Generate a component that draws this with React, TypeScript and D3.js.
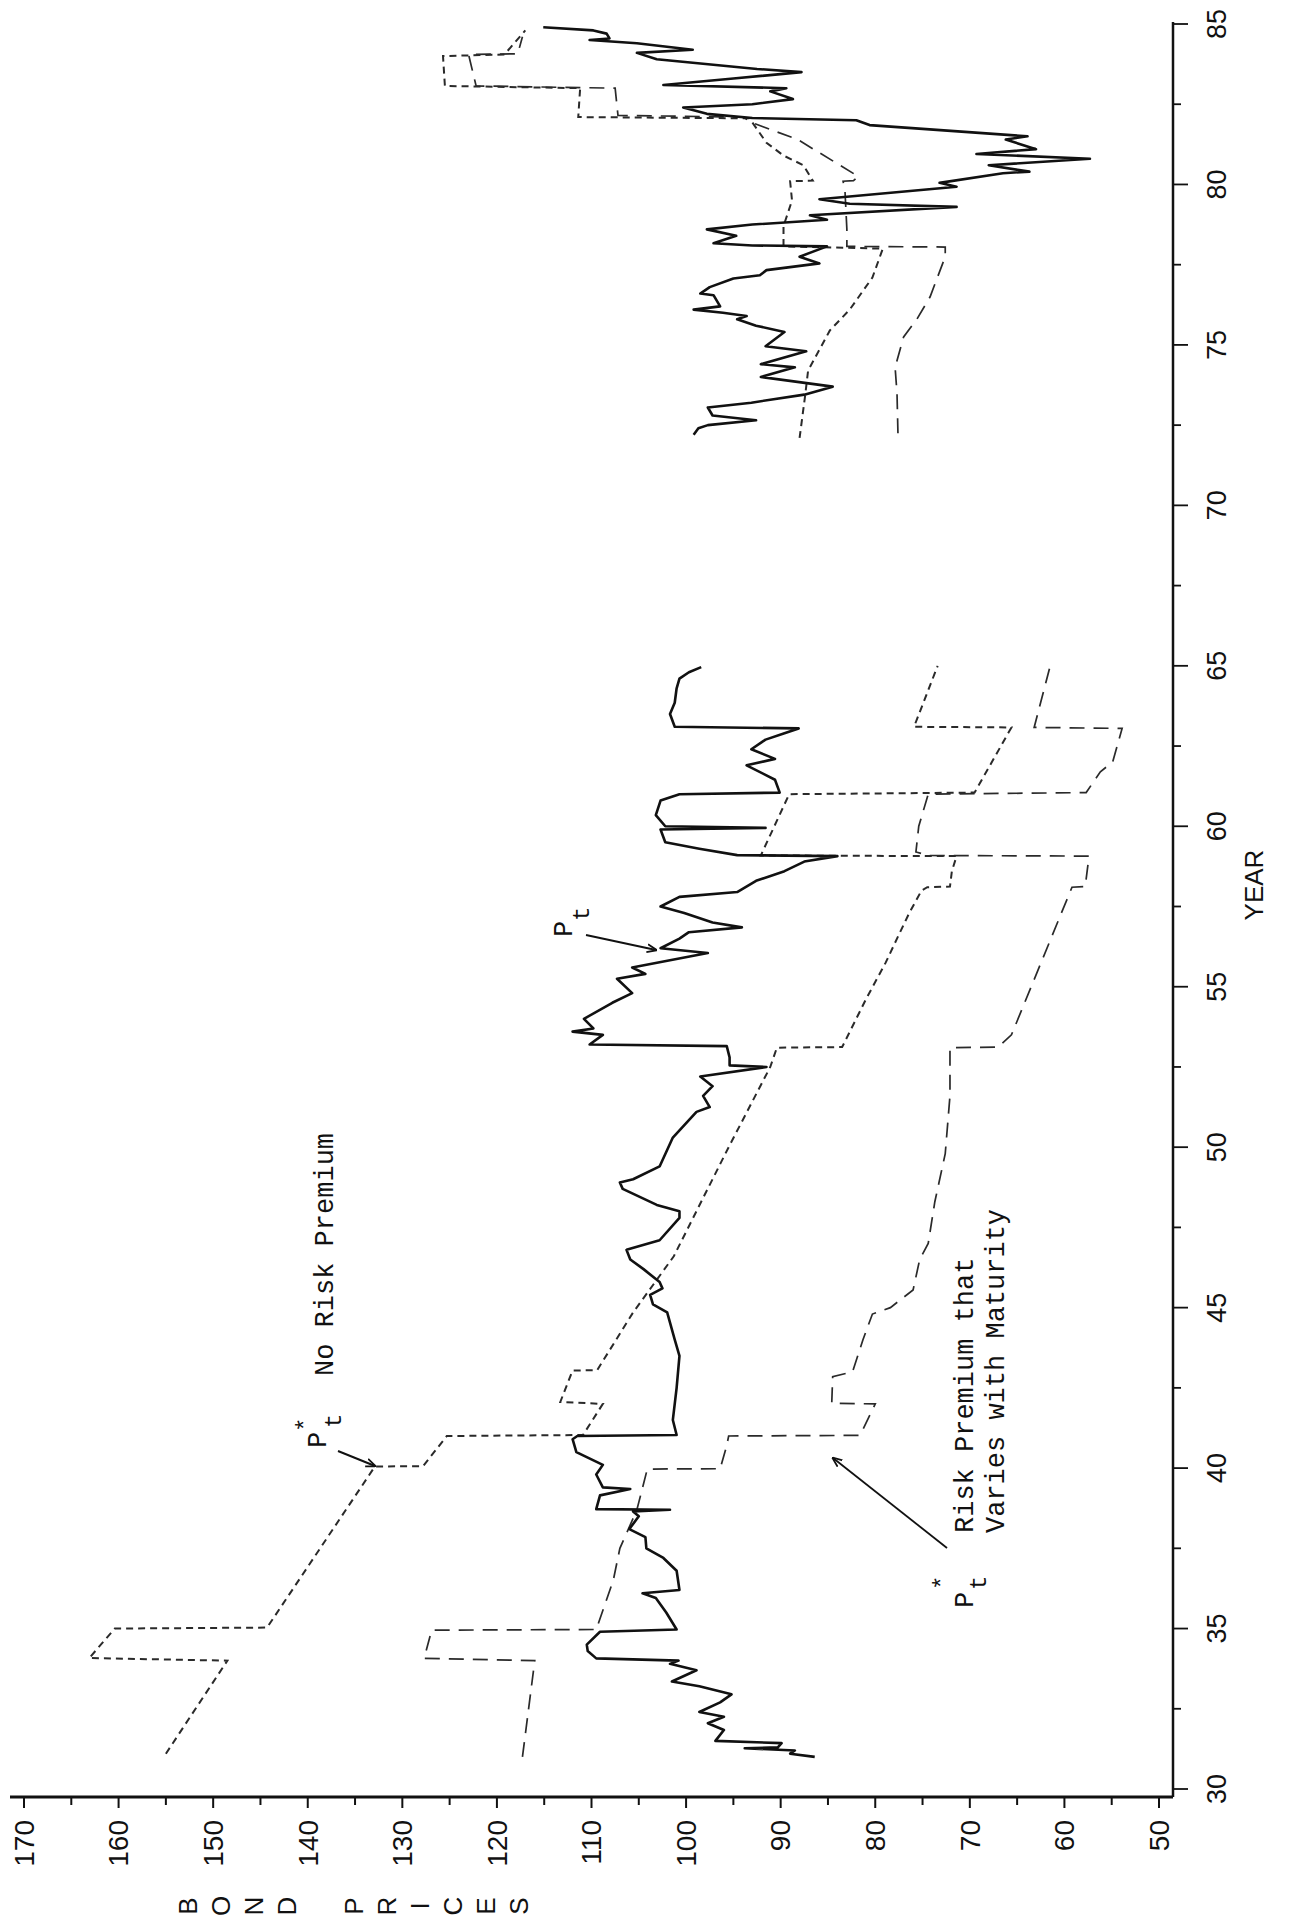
import React from "react";
import * as d3 from "d3";

// ---------- DATA (year, bond price) ----------
const yearTicks = d3.range(30, 85.01, 2.5);
const yearLabels = [30, 35, 40, 45, 50, 55, 60, 65, 70, 75, 80, 85];
const priceTicks = d3.range(50, 170.01, 5);
const priceLabels = [170, 160, 150, 140, 130, 120, 110, 100, 90, 80, 70, 60, 50];
const axisLetters = ["B", "O", "N", "D", "", "P", "R", "I", "C", "E", "S"];

// Actual bond price P_t, 1931-1965
const ptEarly: [number, number][] = [
  [31.0, 86.4], [31.1, 89.0], [31.2, 88.5], [31.27, 93.8], [31.3, 90.3], [31.43, 89.9],
  [31.5, 96.9], [31.84, 96.0], [32.05, 97.7], [32.25, 96.0], [32.4, 98.6], [32.7, 96.4],
  [32.95, 95.2], [33.2, 98.6], [33.35, 101.5], [33.7, 98.9], [33.9, 101.7], [34.0, 100.8],
  [34.07, 109.5], [34.3, 110.4], [34.5, 110.5], [34.9, 109.1], [34.97, 101.0], [35.5, 102.1],
  [35.95, 103.2], [36.1, 104.6], [36.2, 100.7], [36.8, 101.0], [37.2, 102.4], [37.5, 104.2],
  [37.85, 104.3], [38.1, 106.0], [38.5, 105.0], [38.65, 105.6], [38.7, 101.7], [38.72, 109.5],
  [39.15, 109.1], [39.35, 105.9], [39.4, 108.8], [39.8, 109.5], [40.1, 108.8], [40.5, 111.6],
  [40.9, 112.0], [41.0, 111.5], [41.03, 101.0], [41.5, 101.4], [42.5, 101.0], [43.5, 100.7],
  [44.0, 101.2], [44.85, 102.0], [45.1, 103.5], [45.4, 103.8], [45.6, 102.5], [45.8, 102.8],
  [46.2, 104.5], [46.5, 105.9], [46.8, 106.3], [47.1, 102.8], [47.8, 100.7], [48.0, 100.7],
  [48.2, 103.1], [48.7, 106.7], [48.9, 107.0], [49.0, 105.6], [49.4, 102.8], [50.3, 101.4],
  [51.1, 98.9], [51.25, 97.5], [51.6, 98.2], [51.9, 97.2], [52.2, 98.5], [52.5, 91.5],
  [52.55, 95.4], [52.8, 95.4], [53.15, 95.7], [53.2, 110.2], [53.5, 108.8], [53.6, 112.0],
  [53.7, 109.8], [54.0, 110.8], [54.5, 107.8], [54.8, 105.7], [55.25, 107.3], [55.4, 104.3],
  [55.6, 105.7], [56.05, 97.7], [56.2, 102.7], [56.5, 100.7], [56.7, 99.7], [56.85, 94.1],
  [57.0, 97.2], [57.3, 100.2], [57.5, 102.7], [57.8, 100.7], [57.95, 94.6], [58.3, 92.6],
  [58.6, 89.6], [58.9, 87.5], [59.07, 84.0], [59.1, 94.6], [59.3, 98.6], [59.5, 102.2],
  [59.9, 102.7], [59.95, 91.6], [60.0, 102.2], [60.35, 103.2], [60.8, 102.7], [61.0, 100.7],
  [61.05, 90.1], [61.45, 90.6], [61.9, 93.6], [62.1, 90.6], [62.4, 93.1], [62.7, 91.6],
  [62.9, 89.6], [63.05, 88.1], [63.1, 101.2], [63.5, 101.7], [63.85, 101.2], [64.3, 101.0],
  [64.6, 100.7], [64.8, 99.7], [64.96, 98.4],
];

// Actual bond price P_t, 1972-1985
const ptLate: [number, number][] = [
  [72.2, 99.2], [72.4, 98.7], [72.5, 97.7], [72.65, 92.6], [72.8, 97.2], [73.05, 97.7],
  [73.2, 93.1], [73.45, 87.5], [73.7, 84.5], [74.0, 92.1], [74.3, 88.5], [74.4, 92.1],
  [74.8, 87.3], [74.96, 91.6], [75.4, 89.6], [75.6, 92.6], [75.8, 94.6], [75.9, 93.6],
  [76.0, 96.1], [76.1, 99.2], [76.2, 96.4], [76.55, 97.1], [76.6, 98.5], [76.8, 97.5],
  [77.07, 95.0], [77.17, 92.2], [77.33, 91.5], [77.54, 85.9], [77.75, 88.0], [78.07, 85.1],
  [78.1, 93.0], [78.17, 97.1], [78.4, 94.7], [78.6, 97.8], [78.75, 93.0], [78.9, 85.1],
  [79.04, 86.9], [79.3, 71.4], [79.4, 82.7], [79.54, 85.9], [79.93, 71.4], [80.05, 73.2],
  [80.35, 66.5], [80.4, 63.7], [80.6, 68.0], [80.8, 57.3], [80.95, 69.3], [81.1, 63.0],
  [81.4, 66.2], [81.5, 63.9], [81.85, 80.6], [82.0, 82.0], [82.07, 93.0], [82.2, 97.8],
  [82.4, 100.3], [82.5, 93.0], [82.66, 88.7], [82.9, 91.1], [83.0, 89.4], [83.1, 102.4],
  [83.3, 95.0], [83.5, 87.8], [83.6, 92.5], [83.9, 103.1], [84.1, 105.2], [84.2, 99.3],
  [84.4, 105.2], [84.5, 110.2], [84.55, 108.1], [84.7, 108.4], [84.8, 109.8], [84.9, 115.1],
];

// Ex post rational price, no risk premium
const noPremiumEarly: [number, number][] = [
  [31.1, 155.0], [34.0, 148.5], [34.08, 163.1], [35.0, 160.4], [35.03, 144.3], [40.05, 132.9],
  [40.06, 127.8], [41.0, 125.3], [41.03, 110.9], [42.0, 108.8], [42.06, 113.3], [43.04, 112.0],
  [43.05, 109.4], [44.85, 105.6], [46.6, 101.3], [50.0, 95.5], [52.5, 91.1], [53.1, 90.4],
  [53.12, 83.5], [54.6, 81.0], [55.75, 78.9], [56.5, 77.7], [57.3, 76.4], [58.0, 75.1],
  [58.1, 74.5], [58.12, 72.1], [58.6, 71.9], [59.07, 71.4], [59.09, 92.1], [61.0, 89.1],
  [61.05, 69.5], [63.08, 65.6], [63.1, 75.9], [65.0, 73.4],
];
const noPremiumLate: [number, number][] = [
  [72.1, 88.0], [73.45, 87.4], [74.2, 87.1], [75.45, 84.8], [76.1, 82.7], [77.1, 80.3],
  [78.0, 79.2], [78.07, 89.7], [78.7, 89.7], [79.5, 88.8], [80.1, 89.0], [80.12, 86.6],
  [80.6, 87.6], [80.9, 89.7], [81.3, 91.5], [82.06, 93.3], [82.1, 111.4], [83.0, 111.2],
  [83.07, 125.5], [84.0, 125.7], [84.05, 119.2], [84.8, 117.0],
];

// Ex post rational price, risk premium that varies with maturity
const premiumEarly: [number, number][] = [
  [31.0, 117.3], [34.0, 116.0], [34.07, 127.7], [34.95, 126.9], [34.97, 109.5], [36.5, 107.7],
  [37.5, 107.0], [38.7, 105.2], [39.97, 104.1], [39.98, 96.4], [40.7, 95.7], [41.0, 95.5],
  [41.02, 81.6], [42.0, 80.0], [42.02, 84.6], [42.85, 84.5], [43.0, 82.4], [44.0, 81.3],
  [44.8, 80.3], [45.0, 78.4], [45.55, 76.0], [46.5, 75.3], [47.0, 74.4], [48.3, 73.7],
  [49.8, 72.6], [51.6, 72.1], [53.1, 72.1], [53.12, 67.0], [53.5, 65.6], [58.1, 59.2],
  [58.12, 57.8], [59.07, 57.4], [59.09, 74.4], [59.2, 75.7], [60.0, 75.4], [61.0, 74.4],
  [61.05, 57.7], [61.7, 56.2], [62.0, 54.9], [63.05, 53.9], [63.08, 63.2], [65.0, 61.5],
];
const premiumLate: [number, number][] = [
  [72.25, 77.6], [73.5, 77.7], [74.3, 77.9], [75.25, 77.0], [75.8, 75.6], [76.5, 74.2],
  [77.75, 72.6], [78.05, 72.6], [78.07, 83.0], [78.6, 83.0], [79.8, 83.2], [80.1, 83.4],
  [80.12, 82.3], [80.25, 81.8], [81.4, 88.2], [81.9, 92.8], [82.1, 94.0], [82.15, 107.2],
  [83.0, 107.5], [83.07, 122.2], [84.05, 123.0], [84.07, 117.8], [84.6, 117.3],
];

// ---------- LAYOUT ----------
const W = 1290;
const H = 1923;
const axisY = 1797;
const axisX = 1173;

const x = d3.scaleLinear().domain([170, 50]).range([24, 1159]);
const y = d3.scaleLinear().domain([30, 85]).range([1789, 24]);

const line = d3
  .line<[number, number]>()
  .x((d) => x(d[1]))
  .y((d) => y(d[0]));

const sansFont = "'Liberation Sans', Arial, sans-serif";
const monoFont = "'Liberation Mono', 'DejaVu Sans Mono', monospace";

function Rot({ px, py, children, anchor = "start", size = 27, family = monoFont }: any) {
  return (
    <text
      transform={`translate(${px},${py}) rotate(-90)`}
      textAnchor={anchor}
      fontSize={size}
      fontFamily={family}
      fill="#111"
    >
      {children}
    </text>
  );
}

export default function App() {
  return (
    <svg
      width={W}
      height={H}
      viewBox={`0 0 ${W} ${H}`}
      style={{ position: "absolute", left: 0, top: 0, display: "block", background: "#fff" }}
    >
      <defs>
        <marker id="arr" viewBox="0 0 10 10" refX="9" refY="5" markerWidth="10" markerHeight="10" orient="auto-start-reverse" markerUnits="userSpaceOnUse">
          <path d="M0,1 L10,5 L0,9" fill="none" stroke="#111" strokeWidth="1.8" />
        </marker>
      </defs>
      <rect x={0} y={0} width={W} height={H} fill="#fff" />

      {/* series */}
      <g fill="none">
        {[premiumEarly, premiumLate].map((s, i) => (
          <path key={"p" + i} d={line(s) || ""} stroke="#2a2a2a" strokeWidth={1.7} strokeDasharray="15,9" />
        ))}
        {[noPremiumEarly, noPremiumLate].map((s, i) => (
          <path key={"n" + i} d={line(s) || ""} stroke="#2a2a2a" strokeWidth={2} strokeDasharray="7,5" />
        ))}
        {[ptEarly, ptLate].map((s, i) => (
          <path key={"t" + i} d={line(s) || ""} stroke="#111" strokeWidth={2.6} strokeLinejoin="round" />
        ))}
      </g>

      {/* price axis (bottom) */}
      <line x1={10} x2={axisX} y1={axisY} y2={axisY} stroke="#111" strokeWidth={3} />
      {priceTicks.map((p) => (
        <line key={"pt" + p} x1={x(p)} x2={x(p)} y1={axisY} y2={axisY + (p % 10 === 0 ? 11 : 8)} stroke="#111" strokeWidth={2} />
      ))}
      {priceLabels.map((p) => (
        <text
          key={"pl" + p}
          transform={`translate(${x(p)},1820) rotate(-90)`}
          textAnchor="end"
          dy="0.35em"
          fontSize={28}
          fontFamily={sansFont}
          fill="#111"
        >
          {p}
        </text>
      ))}
      {axisLetters.map((c, i) => (
        <text
          key={"al" + i}
          transform={`translate(${188 + i * 33.1},1906) rotate(-90)`}
          textAnchor="middle"
          dy="0.35em"
          fontSize={26}
          fontFamily={sansFont}
          fill="#111"
        >
          {c}
        </text>
      ))}

      {/* year axis (right) */}
      <line x1={axisX} x2={axisX} y1={22} y2={axisY} stroke="#111" strokeWidth={2.5} />
      {yearTicks.map((t) => (
        <line key={"yt" + t} x1={axisX} x2={axisX + (t % 5 === 0 ? 15 : 8)} y1={y(t)} y2={y(t)} stroke="#111" strokeWidth={1.8} />
      ))}
      {yearLabels.map((t) => (
        <text
          key={"yl" + t}
          transform={`translate(1217,${y(t)}) rotate(-90)`}
          textAnchor="middle"
          dy="0.35em"
          fontSize={27}
          fontFamily={sansFont}
          fill="#111"
        >
          {t}
        </text>
      ))}
      <text transform={`translate(1254,885) rotate(-90)`} textAnchor="middle" dy="0.35em" fontSize={26} fontFamily={sansFont} fill="#111">
        YEAR
      </text>

      {/* annotations */}
      <Rot px={333} py={1376}>No Risk Premium</Rot>
      <Rot px={326} py={1448}>P</Rot>
      <Rot px={341} py={1428} size={24}>t</Rot>
      <Rot px={313} py={1432} size={24}>*</Rot>
      <line x1={338} y1={1451} x2={375} y2={1466} stroke="#111" strokeWidth={2} markerEnd="url(#arr)" />

      <Rot px={973} py={1533}>Risk Premium that</Rot>
      <Rot px={1004} py={1533}>Varies with Maturity</Rot>
      <Rot px={973} py={1608}>P</Rot>
      <Rot px={986} py={1590} size={24}>t</Rot>
      <Rot px={950} py={1590} size={24}>*</Rot>
      <line x1={947} y1={1548} x2={833} y2={1458} stroke="#111" strokeWidth={1.8} markerEnd="url(#arr)" />

      <Rot px={572} py={937}>P</Rot>
      <Rot px={589} py={921} size={24}>t</Rot>
      <line x1={586} y1={935} x2={656} y2={950} stroke="#111" strokeWidth={2} markerEnd="url(#arr)" />
    </svg>
  );
}
